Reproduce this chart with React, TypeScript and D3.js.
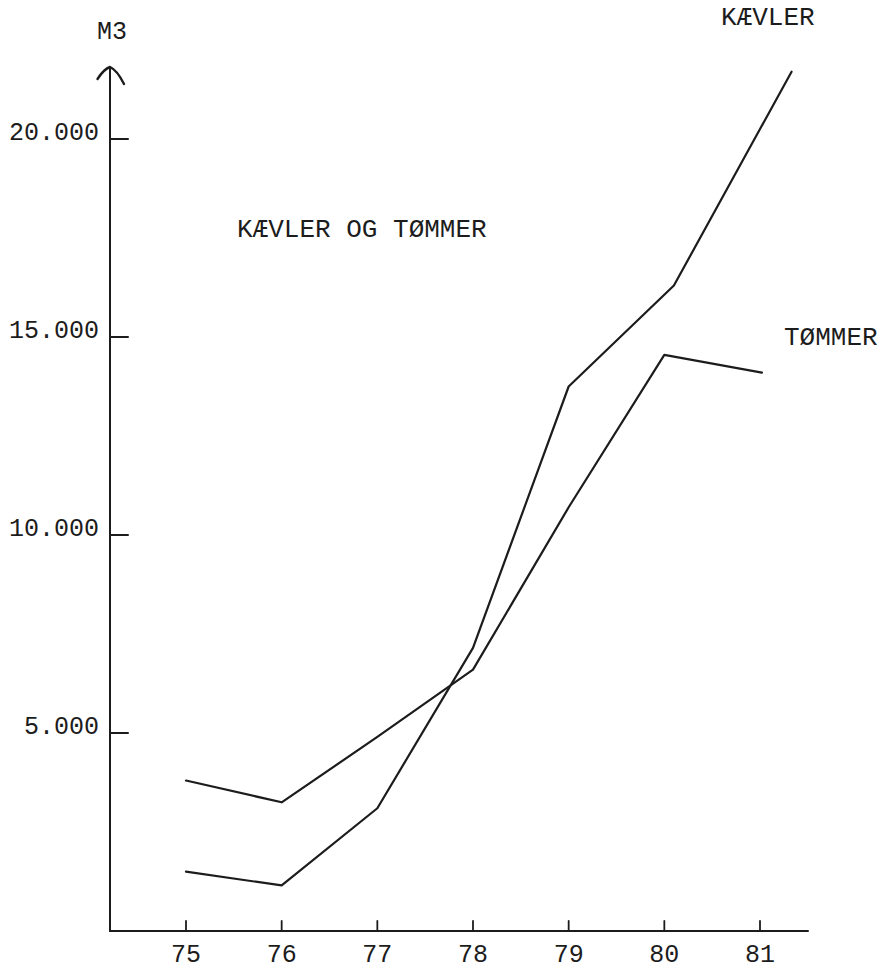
import React from "react";
import * as d3 from "d3";

// ---- data ----
const yearTicks = [75, 76, 77, 78, 79, 80, 81];
const yTickValues = [5000, 10000, 15000, 20000];
const yTickLabels = ["5.000", "10.000", "15.000", "20.000"];

const kaevlerYears = [75, 76, 77, 78, 79, 80.1, 81.33];
const kaevlerValues = [1500, 1150, 3100, 7150, 13750, 16300, 21700];

const tommerYears = [75, 76, 77, 78, 79, 80, 81.02];
const tommerValues = [3800, 3250, 4900, 6600, 10700, 14550, 14100];

const title = "KÆVLER OG TØMMER";
const unitLabel = "M3";
const kaevlerLabel = "KÆVLER";
const tommerLabel = "TØMMER";

const W = 883;
const H = 972;
const FONT = "'Liberation Mono', 'DejaVu Sans Mono', monospace";
const INK = "#1c1c1c";

export default function App() {
  const axisX = 110;
  const axisY = 931;
  const x = d3.scaleLinear().domain([75, 81]).range([186, 760]);
  const y = d3.scaleLinear().domain([0, 20000]).range([axisY, 139]);
  const yTop = 67;
  const xEnd = 808;

  const line = d3
    .line<[number, number]>()
    .x((d) => x(d[0]))
    .y((d) => y(d[1]))
    .curve(d3.curveLinear);

  const kaevler = kaevlerYears.map((yr, i) => [yr, kaevlerValues[i]] as [number, number]);
  const tommer = tommerYears.map((yr, i) => [yr, tommerValues[i]] as [number, number]);

  const arrow = `M${axisX - 12.5},${yTop + 12} Q${axisX - 6},${yTop + 2} ${axisX},${yTop} Q${axisX + 7},${yTop + 3} ${axisX + 14},${yTop + 17}`;

  return (
    <svg
      width={W}
      height={H}
      viewBox={`0 0 ${W} ${H}`}
      style={{ position: "absolute", left: 0, top: 0, display: "block", background: "#fff" }}
    >
      <rect x={0} y={0} width={W} height={H} fill="#fff" />
      <g fill="none" stroke={INK} strokeWidth={2} strokeLinecap="round" strokeLinejoin="round">
        {/* y axis */}
        <line x1={axisX} y1={yTop} x2={axisX} y2={axisY} />
        <path d={arrow} strokeWidth={2.4} />
        {/* x axis */}
        <line x1={axisX} y1={axisY} x2={xEnd} y2={axisY} />
        {yTickValues.map((v) => (
          <line key={v} x1={axisX} y1={y(v)} x2={axisX + 18} y2={y(v)} />
        ))}
        {yearTicks.map((t) => (
          <line key={t} x1={x(t)} y1={axisY} x2={x(t)} y2={axisY - 10} strokeWidth={1.8} />
        ))}
        <path d={line(kaevler) || ""} strokeWidth={2.2} />
        <path d={line(tommer) || ""} strokeWidth={2.2} />
      </g>
      <g fill={INK} fontFamily={FONT} fontSize={25}>
        <text x={97} y={39}>{unitLabel}</text>
        {yTickValues.map((v, i) => (
          <text key={v} x={99} y={y(v) + 1} textAnchor="end">
            {yTickLabels[i]}
          </text>
        ))}
        {yearTicks.map((t) => (
          <text key={t} x={x(t)} y={962} textAnchor="middle">
            {String(t)}
          </text>
        ))}
        <text x={237} y={237} fontSize={26}>{title}</text>
        <text x={721} y={25} fontSize={26}>{kaevlerLabel}</text>
        <text x={784} y={345} fontSize={26}>{tommerLabel}</text>
      </g>
    </svg>
  );
}
